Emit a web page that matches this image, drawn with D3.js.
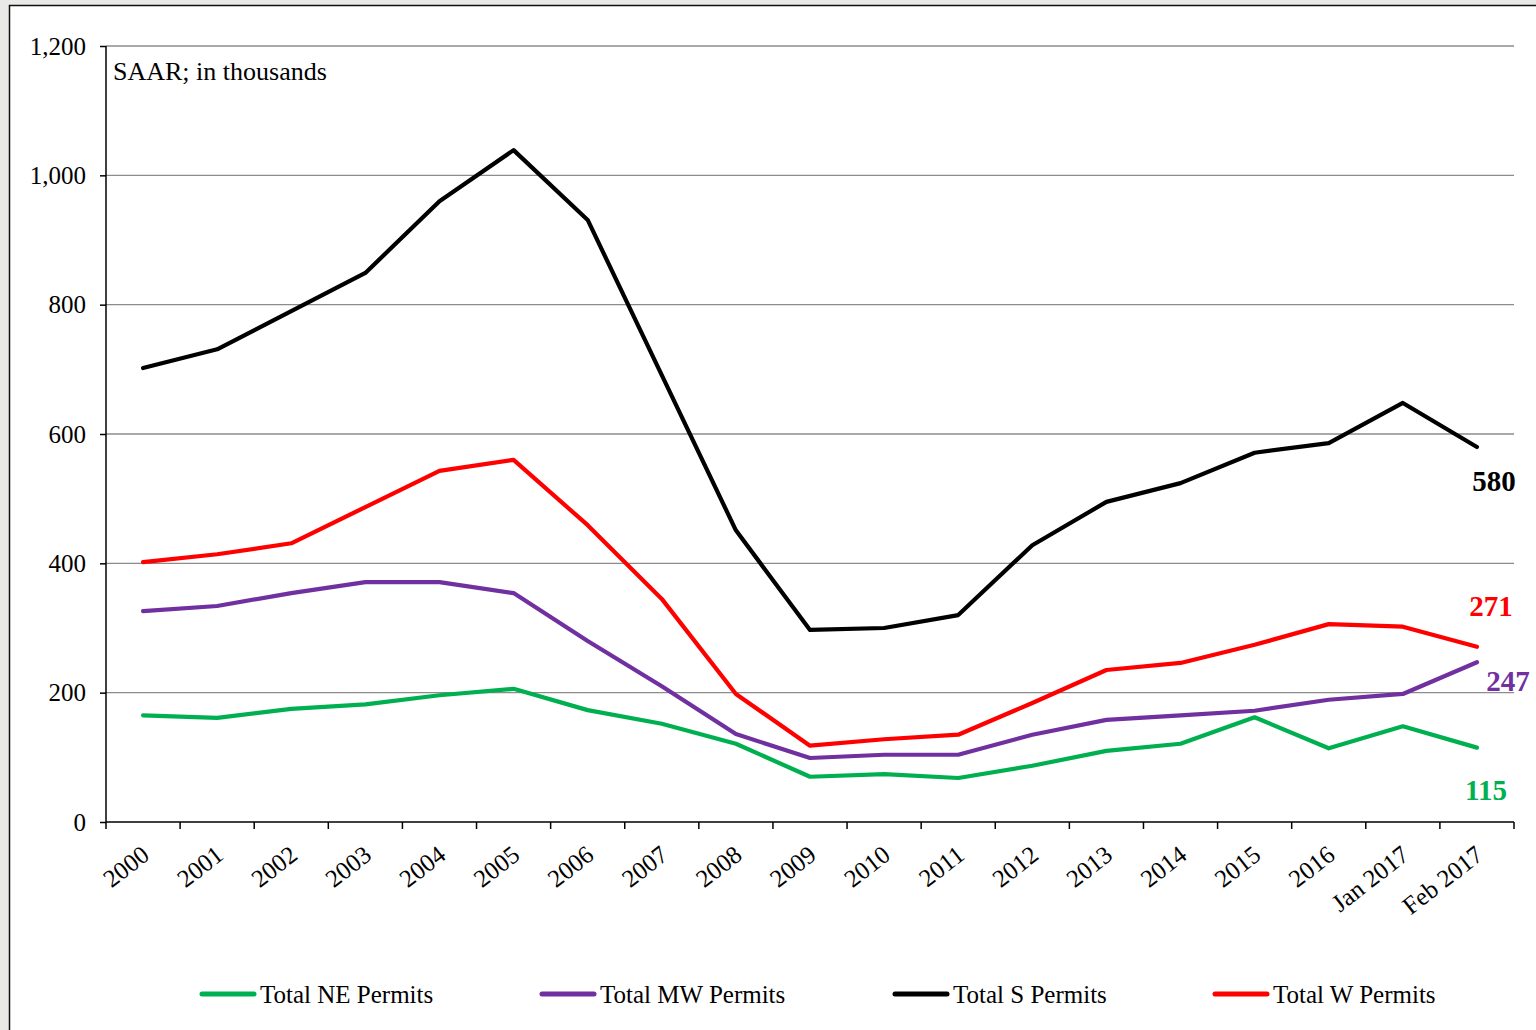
<!DOCTYPE html>
<html>
<head>
<meta charset="utf-8">
<script src="https://cdn.jsdelivr.net/npm/d3@7"></script>
<style>
  body { margin: 0; background: #e9e9e7; }
  svg { display: block; }
</style>
</head>
<body>
<div id="chart"></div>
<script>
// Data
var categories = ["2000","2001","2002","2003","2004","2005","2006","2007","2008","2009",
                  "2010","2011","2012","2013","2014","2015","2016","Jan 2017","Feb 2017"];
var neValues = [165,161,175,182,196,206,173,152,121,70,74,68,87,110,121,162,114,148,115];
var mwValues = [326,334,354,371,371,354,280,210,136,99,104,104,135,158,165,172,189,198,247];
var sValues  = [702,731,790,849,960,1039,931,691,451,297,300,320,428,495,524,571,586,648,580];
var wValues  = [402,414,431,487,543,560,459,345,198,118,128,135,184,235,246,274,306,302,271];
var yTicks = [0,200,400,600,800,1000,1200];

var series = [
    {name: "Total NE Permits", values: neValues, color: "#00b050"},
    {name: "Total MW Permits", values: mwValues, color: "#7030a0"},
    {name: "Total S Permits",  values: sValues,  color: "#000000"},
    {name: "Total W Permits",  values: wValues,  color: "#ff0000"}
];

var W = 1536, H = 1030;
var margin = {top: 46, left: 106, right: 22, bottom: 208};
var width = W - margin.left - margin.right;
var height = H - margin.top - margin.bottom;
var font = "'Liberation Serif', 'Times New Roman', serif";

var svg = d3.select("#chart").append("svg")
            .attr("width", W)
            .attr("height", H);

// White chart box
svg.append("rect")
   .attr("x", 9.5).attr("y", 5.5)
   .attr("width", W + 10).attr("height", H + 10)
   .attr("fill", "white")
   .attr("stroke", "#111")
   .attr("stroke-width", 1.5);

var g = svg.append("g")
           .attr("transform", "translate(" + margin.left + "," + margin.top + ")");

// Scales
var x = d3.scaleBand().domain(categories).range([0, width]);
var y = d3.scaleLinear().domain([0, 1200]).range([height, 0]);

// Grid
g.append("g")
 .selectAll("line")
 .data(yTicks.slice(1))
 .enter().append("line")
 .attr("x1", 0).attr("x2", width)
 .attr("y1", d => y(d)).attr("y2", d => y(d))
 .attr("stroke", "#8c8c8c")
 .attr("stroke-width", 1.3);

// Y axis
var leftAxis = d3.axisLeft(y).tickValues(yTicks).tickSize(6).tickPadding(14)
                 .tickFormat(d3.format(","));
var ya = g.append("g").call(leftAxis);
ya.select(".domain").attr("stroke", "#000").attr("stroke-width", 1.5).attr("d", "M0," + height + "V0");
ya.selectAll(".tick line").attr("stroke", "#000").attr("stroke-width", 1.5);
ya.selectAll("text").attr("font-family", font).attr("font-size", 25).attr("fill", "#000");

// X axis (ticks at category boundaries)
var xa = g.append("g").attr("transform", "translate(0," + height + ")");
xa.append("line").attr("x1", 0).attr("x2", width).attr("stroke", "#000").attr("stroke-width", 1.5);
xa.selectAll(".bt")
  .data(categories.concat(["end"]))
  .enter().append("line")
  .attr("x1", (d, i) => i * x.bandwidth())
  .attr("x2", (d, i) => i * x.bandwidth())
  .attr("y1", 0).attr("y2", 7)
  .attr("stroke", "#000").attr("stroke-width", 1.5);
xa.selectAll("text")
  .data(categories)
  .enter().append("text")
  .attr("transform", d => "translate(" + (x(d) + x.bandwidth() / 2 - 3) + ",22) rotate(-38)")
  .attr("text-anchor", "end")
  .attr("dy", "0.7em")
  .attr("font-family", font)
  .attr("font-size", 25)
  .text(d => d);

// Lines
var line = d3.line()
             .x((d, i) => x(categories[i]) + x.bandwidth() / 2)
             .y(d => y(d));

g.selectAll(".series")
 .data(series)
 .enter().append("path")
 .attr("d", d => line(d.values))
 .attr("fill", "none")
 .attr("stroke", d => d.color)
 .attr("stroke-width", 4.2)
 .attr("stroke-linejoin", "round")
 .attr("stroke-linecap", "round");

// Note
g.append("text")
 .attr("x", 7).attr("y", 34)
 .attr("font-family", font).attr("font-size", 26)
 .text("SAAR; in thousands");

// End value labels
var lastCat = categories[categories.length - 1];
var endLabels = [
    {s: 2, dx: 17, dy: 44},
    {s: 3, dx: 14, dy: -31},
    {s: 1, dx: 31, dy: 29},
    {s: 0, dx: 9,  dy: 52}
];
g.selectAll(".endlabel")
 .data(endLabels)
 .enter().append("text")
 .attr("x", d => x(lastCat) + x.bandwidth() / 2 + d.dx)
 .attr("y", d => y(series[d.s].values[series[d.s].values.length - 1]) + d.dy)
 .attr("text-anchor", "middle")
 .attr("font-family", font)
 .attr("font-size", 29)
 .attr("font-weight", "bold")
 .attr("fill", d => series[d.s].color)
 .text(d => series[d.s].values[series[d.s].values.length - 1]);

// Legend
var legendX = [200, 540, 893, 1213];
var legend = svg.selectAll(".legend")
                .data(series)
                .enter().append("g")
                .attr("transform", (d, i) => "translate(" + legendX[i] + ",994)");
legend.append("line")
      .attr("x1", 2).attr("x2", 54)
      .attr("stroke", d => d.color)
      .attr("stroke-width", 5)
      .attr("stroke-linecap", "round");
legend.append("text")
      .attr("x", 60)
      .attr("dy", "0.35em")
      .attr("font-family", font)
      .attr("font-size", 25)
      .text(d => d.name);
</script>
</body>
</html>
